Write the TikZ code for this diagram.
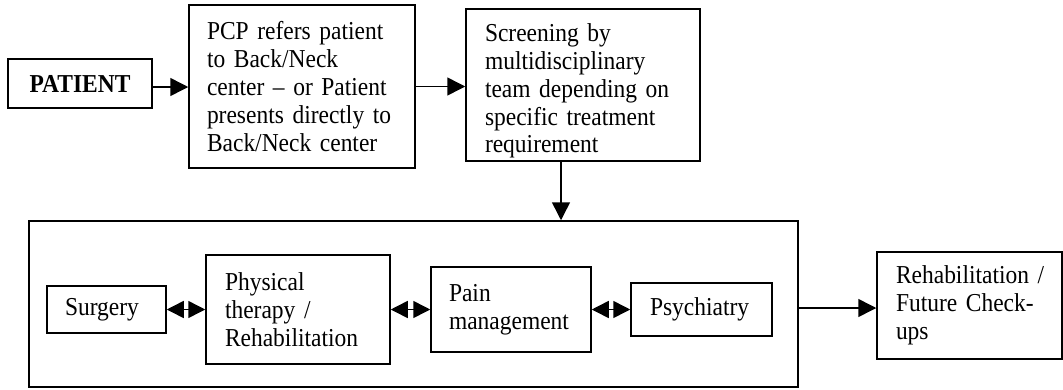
\documentclass[tikz,border=0pt]{standalone}
\usepackage{fontspec}
\setmainfont[FakeStretch=0.91]{Liberation Serif}
\usetikzlibrary{arrows.meta}
\tikzset{
  box/.style={draw=black, line width=1.5pt, rectangle, inner ysep=0pt, inner xsep=0pt, align=left,
              font=\fontsize{25.8}{27.8}\selectfont},
  arr/.style={line width=1.5pt, -{Triangle[length=18pt,width=18pt]}},
  darr/.style={line width=1.5pt, {Triangle[length=17pt,width=17pt]}-{Triangle[length=17pt,width=17pt]}},
}
\begin{document}
\begin{tikzpicture}[x=1pt,y=-1pt]
\useasboundingbox (0,0) rectangle (1063,389);
% top row
\node[box, align=center, minimum width=144pt, minimum height=49pt] (pat) at (80,83.5) {\textbf{PATIENT}};
\node[box, text width=226pt, minimum height=163pt] (pcp) at (302,86.5)
  {\leftskip=18pt PCP refers patient\\ to Back/Neck\\ center -- or Patient\\ presents directly to\\ Back/Neck center\par};
\node[box, text width=234pt, minimum height=152pt] (scr) at (583,85)
  {\leftskip=19pt \rule{0pt}{30pt}Screening by\\ multidisciplinary\\ team depending on\\ specific treatment\\ requirement\par};
% big container
\node[box, minimum width=769pt, minimum height=166pt] (big) at (413.5,304) {};
\node[box, text width=119pt, minimum height=47pt] (sur) at (106.5,309.5) {\leftskip=18pt Surgery\par};
\node[box, text width=184pt, minimum height=109pt] (pt) at (298,309.5) {\leftskip=19pt Physical\\ therapy /\\ Rehabilitation\par};
\node[box, text width=160pt, minimum height=85pt] (pain) at (511,309.5) {\leftskip=18pt Pain\\ management\par};
\node[box, text width=141pt, minimum height=53pt] (psy) at (701.5,309.5) {\leftskip=19pt Psychiatry\par};
\node[box, text width=185pt, minimum height=107pt] (reh) at (969.5,305.5) {\leftskip=19pt Rehabilitation /\\ Future Check-\\ ups\par};
% connectors
\draw[arr] ([yshift=-3.5pt]pat.east) -- ([yshift=-3.5pt]pat.east -| pcp.west);
\draw[arr] (pcp.east) -- (pcp.east -| scr.west);
\draw[arr] ([xshift=-22pt]scr.south) -- ([xshift=-22pt]scr.south |- big.north);
\draw[arr] ([yshift=-4pt]big.east) -- ([yshift=-4pt]big.east -| reh.west);
\draw[darr] (sur.east) -- (sur.east -| pt.west);
\draw[darr] (pt.east) -- (pt.east -| pain.west);
\draw[darr] (pain.east) -- (pain.east -| psy.west);
\end{tikzpicture}
\end{document}
